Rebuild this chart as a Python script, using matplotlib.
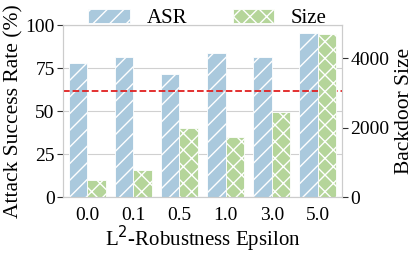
import matplotlib.pyplot as plt
import numpy as np

plt.rcParams['font.family'] = ['Liberation Serif', 'DejaVu Serif']
plt.rcParams['font.size'] = 14
plt.rcParams['hatch.color'] = 'white'
plt.rcParams['hatch.linewidth'] = 1.0

epsilons = ['0.0', '0.1', '0.5', '1.0', '3.0', '5.0']
asr = [78, 81.5, 71.5, 83.5, 81.5, 95.5]
size = [500, 770, 1980, 1740, 2460, 4700]
threshold = 61.7

blue = '#aac9dd'
green = '#b5d59a'

fig = plt.figure(figsize=(4.15, 2.56), dpi=100)
ax = fig.add_axes([0.152, 0.23, 0.672, 0.672])
ax2 = ax.twinx()

x = np.arange(len(epsilons))
w = 0.4
b1 = ax.bar(x - w / 2, asr, w, color=blue, hatch='//', edgecolor='white', linewidth=0.6, label='ASR')
b2 = ax2.bar(x + w / 2, size, w, color=green, hatch='xx', edgecolor='white', linewidth=0.6, label='Size')
ax.axhline(threshold, color='#e02020', linestyle='--', linewidth=1.3, zorder=5)

ax.set_ylim(0, 100)
ax.set_yticks([0, 25, 50, 75, 100])
ax2.set_ylim(0, 4950)
ax2.set_yticks([0, 2000, 4000])
ax.set_xlim(-0.52, 5.52)
ax.set_xticks(x)
ax.set_xticklabels(epsilons)
ax.grid(axis='y', color='#d0d0d0', linewidth=0.8)
ax.set_axisbelow(True)

ax.set_ylabel('Attack Success Rate (%)', fontsize=15.5, labelpad=1)
ax2.set_ylabel('Backdoor Size', fontsize=15.5, labelpad=4)
ax.set_xlabel('L$^2$-Robustness Epsilon', fontsize=15, labelpad=0)

for a in (ax, ax2):
    for s in a.spines.values():
        s.set_color('#cccccc')
    a.tick_params(axis='y', length=4, color='#333333', pad=2)
    a.tick_params(axis='x', length=0, pad=7)

fig.legend([b1, b2], ['ASR', 'Size'], loc='upper center', bbox_to_anchor=(0.5, 1.04),
           ncol=2, frameon=False, handlelength=2.0, handleheight=0.7, columnspacing=2.2,
           fontsize=15)

fig.savefig('out.png', dpi=100)
